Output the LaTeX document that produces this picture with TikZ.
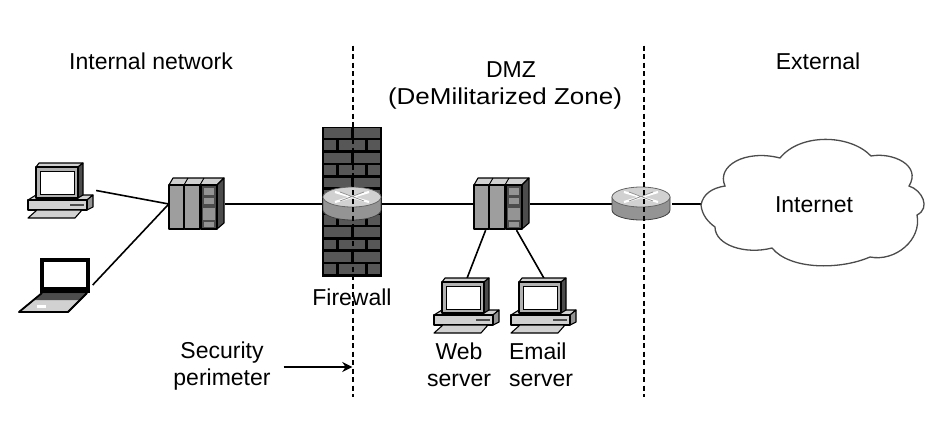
\documentclass[tikz,border=0pt]{standalone}
\usepackage{fontspec}
\setmainfont{Liberation Sans}
\usetikzlibrary{arrows.meta}
\definecolor{brick}{gray}{0.34}
\definecolor{panel}{gray}{0.62}
\definecolor{lite}{gray}{0.82}
\definecolor{dark}{gray}{0.30}
\definecolor{midg}{gray}{0.58}
\definecolor{frameg}{gray}{0.70}
\tikzset{
  lbl/.style={font=\fontsize{23}{26.5}\selectfont, text=black, inner sep=0pt},
  anchorbox/.style={rectangle, inner sep=0pt, draw=none, fill=none},
  link/.style={line width=1.6pt, black},
  border/.style={line width=1.5pt, black, dashed, dash pattern=on 5pt off 3.5pt},
  outl/.style={draw=black, line width=1.1pt, line join=round},
  pc/.pic={
    \fill[lite,outl] (-8,33)--(0,28)--(57,28)--(51,33)--cycle;
    \fill[midg,outl] (51,33)--(57,28)--(57,40)--(51,43)--cycle;
    \fill[lite,outl] (-8,33) rectangle (51,43);
    \fill[dark] (34,37) rectangle (48,39);
    \fill[lite,outl] (-8,51)--(39,51)--(46,43)--(1,43)--cycle;
    \fill[lite,outl] (0,0)--(3,-4)--(47,-4)--(42,0)--cycle;
    \fill[dark,outl] (42,0)--(47,-4)--(47,28)--(42,31)--cycle;
    \fill[frameg,outl] (0,0) rectangle (42,31);
    \fill[white,draw=black,line width=0.7pt] (4,4) rectangle (38,27);
  },
  laptop/.pic={
    \fill[lite,outl] (2,35)--(47,35)--(28,54)--(-21,54)--cycle;
    \fill[dark] (1,36)--(46,36)--(40,42)--(-5,42)--cycle;
    \fill[black] (0,0) rectangle (50,32);
    \fill[white] (3.5,3.5) rectangle (46,29);
    \fill[black] (0,30) rectangle (50,35);
    \draw[outl,line width=1.8pt] (47,35)--(28,54)--(-21,54)--(2,35);
    \fill[white] (-3,47) rectangle (6,50);
  },
  switchbox/.pic={
    \fill[lite,outl] (0,0)--(4,-7)--(55,-7)--(48,0)--cycle;
    \fill[dark,outl] (48,0)--(55,-7)--(55,38)--(48,44)--cycle;
    \fill[panel,outl] (0,0) rectangle (15,44);
    \fill[panel,outl] (15.5,0) rectangle (31,44);
    \fill[dark,outl] (32,0) rectangle (48,44);
    \draw[black,line width=0.9pt] (15,0)--(19,-7) (31,0)--(35,-7);
    \fill[midg] (35,3) rectangle (45,10);
    \fill[midg] (35,13) rectangle (45,19);
    \fill[midg] (33.5,23) rectangle (46,35);
    \fill[midg] (35,37) rectangle (45,42);
  },
  routerbox/.pic={
    \fill[midg,draw=black!75,line width=0.8pt] (-29,0) -- (-29,13) arc[start angle=180,end angle=0,x radius=29,y radius=10] -- (29,0) -- cycle;
    \fill[lite,draw=black!60,line width=0.8pt] (0,0) ellipse[x radius=29,y radius=10];
    \draw[white,line width=2.2pt] (-17,-5)--(17,5) (-17,5)--(17,-5);
    \draw[midg,line width=0.8pt] (-12,-5)--(12,4) (-12,4)--(12,-5);
  }
}
\begin{document}
\begin{tikzpicture}[x=1pt,y=-1pt]
\useasboundingbox (0,0) rectangle (932,432);
% anchoring boxes
\node[anchorbox,minimum width=68pt,minimum height=55pt] (pcA) at (62,190.5) {};
\node[anchorbox,minimum width=73pt,minimum height=54pt] (lap) at (56,285) {};
\node[anchorbox,minimum width=56pt,minimum height=52pt] (swA) at (197,204) {};
\node[anchorbox,minimum width=60pt,minimum height=154pt] (fwall) at (352,204) {};
\node[anchorbox,minimum width=60pt,minimum height=33pt] (rtA) at (352,204) {};
\node[anchorbox,minimum width=56pt,minimum height=52pt] (swB) at (502,204) {};
\node[anchorbox,minimum width=60pt,minimum height=33pt] (rtB) at (642,204) {};
\node[anchorbox,minimum width=224pt,minimum height=112pt] (cloud) at (813,204) {};
\node[anchorbox,minimum width=66pt,minimum height=55pt] (pcW) at (467,306) {};
\node[anchorbox,minimum width=66pt,minimum height=55pt] (pcE) at (544,306) {};
\node[anchorbox,minimum width=1pt,minimum height=1pt] (secl) at (283,367) {};
\node[anchorbox,minimum width=1pt,minimum height=1pt] (secr) at (353,367) {};
\node[anchorbox,minimum width=1pt,minimum height=1pt] (bAt) at (353,45) {};
\node[anchorbox,minimum width=1pt,minimum height=1pt] (bAb) at (353,398) {};
\node[anchorbox,minimum width=1pt,minimum height=1pt] (bBt) at (644,45) {};
\node[anchorbox,minimum width=1pt,minimum height=1pt] (bBb) at (644,398) {};
% connectors
\draw[link] (pcA.east) -- (swA.west);
\draw[link] (lap.east) -- (swA.west);
\draw[link] (swA.east) -- (fwall.west);
\draw[link] (rtA.east) -- (swB.west);
\draw[link] (swB.east) -- (rtB.west);
\draw[link] (rtB.east) -- (cloud.west);
\draw[link] (swB.238) -- (pcW.north);
\draw[link] (swB.299) -- (pcE.north);
% firewall
\fill[black] (322,127) rectangle (382,277);
\foreach \r in {0,...,11}{
  \pgfmathsetmacro{\yy}{128+12.4*\r}
  \pgfmathtruncatemacro{\odd}{mod(\r,2)}
  \ifnum\odd=0
    \fill[brick] (324,\yy) rectangle (351,\yy+9.8);
    \fill[brick] (354,\yy) rectangle (380,\yy+9.8);
  \else
    \fill[brick] (324,\yy) rectangle (336,\yy+9.8);
    \fill[brick] (339,\yy) rectangle (365,\yy+9.8);
    \fill[brick] (368,\yy) rectangle (380,\yy+9.8);
  \fi
}
% devices
\pic at (36,167) {pc};
\pic at (40,258) {laptop};
\pic at (169,185) {switchbox};
\pic at (352,197) {routerbox};
\pic at (474,185) {switchbox};
\pic at (442,282) {pc};
\pic at (519,282) {pc};
\pic at (641,197) {routerbox};
% cloud
\draw[line width=1.3pt, black!70, fill=white]
  (701,205) .. controls (703,194) and (712,188) .. (725,186)
  .. controls (716,166) and (745,149) .. (780,158)
  .. controls (800,133) and (850,134) .. (871,156)
  .. controls (892,152) and (922,165) .. (909,186)
  .. controls (922,190) and (931,208) .. (917,215)
  .. controls (922,240) and (895,262) .. (870,257)
  .. controls (840,270) and (790,270) .. (772,248)
  .. controls (745,255) and (715,245) .. (715,227)
  .. controls (708,222) and (702,215) .. (701,205) -- cycle;
% borders
\draw[border] (bAt) -- (bAb);
\draw[border,line width=1.2pt] (bBt) -- (bBb);
\draw[link,-{Stealth[length=10pt,width=10pt]}] (secl) -- (secr);
% labels
\node[lbl] (tInt) at (151,61) {Internal network};
\node[lbl] (tDmz) at (511,70) {DMZ};
\node[lbl] (tDmz2) at (505,99) {\scalebox{1.13}[1]{(DeMilitarized Zone)}};
\node[lbl] (tExt) at (818,61) {External};
\node[lbl] (tNet) at (814,205) {Internet};
\node[lbl] (tFw) at (352,297) {Firewall};
\node[lbl,align=center] (tSec) at (222,366) {Security\\perimeter};
\node[lbl,align=center] (tWeb) at (459,365) {Web\\server};
\node[lbl,align=left] (tMail) at (541,365) {Email\\server};
\end{tikzpicture}
\end{document}
